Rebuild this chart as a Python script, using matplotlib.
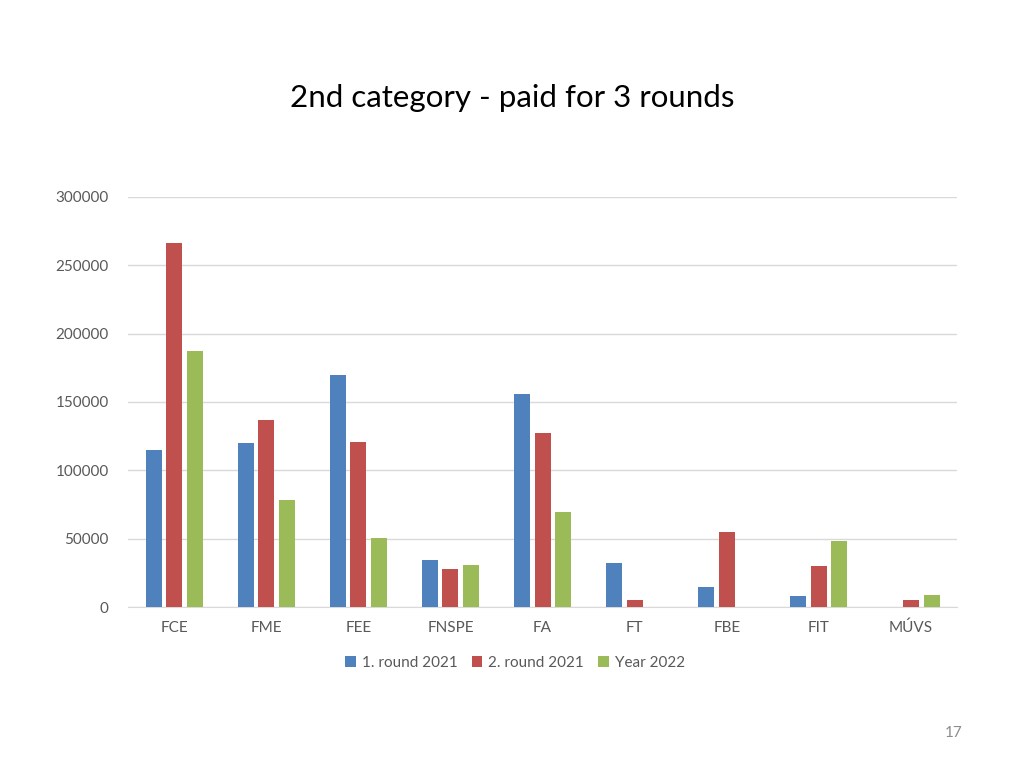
import matplotlib.pyplot as plt
import numpy as np

faculties = ['FCE', 'FME', 'FEE', 'FNSPE', 'FA', 'FT', 'FBE', 'FIT', 'MÚVS']
round1_2021 = [115000, 120000, 170000, 34500, 155500, 32000, 15000, 8000, 0]
round2_2021 = [266000, 136500, 120500, 27500, 127500, 5000, 55000, 30000, 5000]
year_2022 = [187000, 78500, 50500, 30500, 69500, 0, 0, 48500, 9000]
series_names = ['1. round 2021', '2. round 2021', 'Year 2022']

plt.rcParams['font.family'] = ['Lato', 'DejaVu Sans']

fig = plt.figure(figsize=(10.24, 7.68), dpi=100)
ax = fig.add_axes([0.125, 0.2096, 0.8096, 0.534])

x = np.arange(len(faculties))
w = 0.174
step = 0.223
colors = ['#4F81BD', '#C0504D', '#9BBB59']
for k, vals in enumerate([round1_2021, round2_2021, year_2022]):
    ax.bar(x + (k - 1) * step, vals, width=w, color=colors[k], label=series_names[k], zorder=3)

ax.set_xlim(-0.5, len(faculties) - 0.5)
ax.set_ylim(0, 300000)
ax.set_yticks(range(0, 300001, 50000))
ax.set_xticks(x)
ax.set_xticklabels(faculties)
ax.yaxis.grid(True, color='#D9D9D9', linewidth=1, zorder=0)
for s in ['top', 'right', 'left']:
    ax.spines[s].set_visible(False)
ax.spines['bottom'].set_color('#D9D9D9')
ax.tick_params(axis='both', length=0, labelsize=11, colors='#595959')
ax.tick_params(axis='y', pad=14)
ax.tick_params(axis='x', pad=10)

# legend sits under the chart, roughly centred on the page
fig.legend(*ax.get_legend_handles_labels(), loc='center', bbox_to_anchor=(0.503, 0.137),
           ncol=3, frameon=False, fontsize=11, handlelength=0.7, handleheight=0.7,
           handletextpad=0.4, columnspacing=0.9, labelcolor='#595959')

fig.text(0.5, 0.873, '2nd category - paid for 3 rounds', ha='center', va='center',
         fontsize=22.5, color='#000000')
fig.text(0.931, 0.045, '17', ha='center', va='center', fontsize=11, color='#8C8C8C')

fig.savefig('out.png', dpi=100)
